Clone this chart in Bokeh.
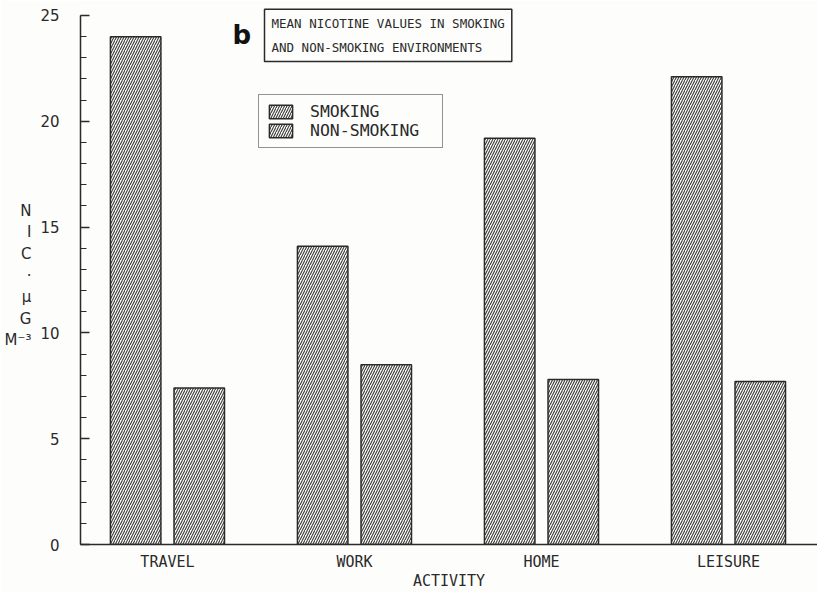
from bokeh.plotting import figure
from bokeh.models import ColumnDataSource, Label, Legend, LegendItem, FixedTicker, Range1d
from bokeh.embed import file_html
from bokeh.resources import INLINE

categories = ["TRAVEL", "WORK", "HOME", "LEISURE"]
smoking = [24.0, 14.1, 19.2, 22.1]
non_smoking = [7.4, 8.5, 7.8, 7.7]
y_ticks = [0, 5, 10, 15, 20, 25]

pos = [1, 2, 3, 4]
src = ColumnDataSource(dict(
    xs=[p - 0.17 for p in pos], xn=[p + 0.17 for p in pos],
    smoking=smoking, non_smoking=non_smoking))

MONO = "DejaVu Sans Mono"
INK = "#2a2a2a"
BG = "#fdfdfb"

p = figure(width=817, height=592, output_backend="svg", toolbar_location=None,
           x_range=Range1d(0.535, 4.476), y_range=Range1d(0, 25.4245),
           min_border_left=80, min_border_right=0, min_border_top=6, min_border_bottom=47)
p.outline_line_color = None
p.grid.grid_line_color = None
p.background_fill_color = BG
p.border_fill_color = BG

common = dict(width=0.27, fill_color=BG, line_color=INK, line_width=1.5,
              hatch_pattern="/", hatch_color="#3a3a3a", hatch_scale=5, hatch_weight=1.1)
r1 = p.vbar(x="xs", top="smoking", source=src, **common)
r2 = p.vbar(x="xn", top="non_smoking", source=src, **common)

# x axis
p.xaxis.ticker = FixedTicker(ticks=pos)
p.xaxis.major_label_overrides = {i: c for i, c in zip(pos, categories)}
p.xaxis.major_tick_line_color = None
p.xaxis.minor_tick_line_color = None
p.xaxis.axis_line_color = INK
p.xaxis.axis_line_width = 1.5
p.xaxis.major_label_text_font = MONO
p.xaxis.major_label_text_font_size = "15px"
p.xaxis.major_label_text_color = INK
p.xaxis.major_label_standoff = 2
p.xaxis.axis_label = "ACTIVITY"
p.xaxis.axis_label_text_font = MONO
p.xaxis.axis_label_text_font_size = "15px"
p.xaxis.axis_label_text_font_style = "normal"
p.xaxis.axis_label_text_color = INK
p.xaxis.axis_label_standoff = -2

# y axis
p.yaxis.bounds = (0, 25)
p.yaxis.ticker = FixedTicker(ticks=y_ticks, minor_ticks=list(range(0, 26)))
p.yaxis.major_tick_in = 9
p.yaxis.major_tick_out = 0
p.yaxis.minor_tick_in = 6
p.yaxis.minor_tick_out = 0
p.yaxis.axis_line_color = INK
p.yaxis.axis_line_width = 1.5
p.yaxis.major_tick_line_color = INK
p.yaxis.minor_tick_line_color = INK
p.yaxis.major_tick_line_width = 1.5
p.yaxis.major_label_text_font = "DejaVu Sans"
p.yaxis.major_label_text_font_size = "15px"
p.yaxis.major_label_text_color = INK
p.yaxis.major_label_standoff = 21
p.yaxis.axis_label = "N\nI\nC\n·\nµ\nG\nM⁻³"
p.yaxis.axis_label_text_font = "DejaVu Sans"
p.yaxis.axis_label_text_font_size = "15px"
p.yaxis.axis_label_text_font_style = "normal"
p.yaxis.axis_label_text_color = INK
p.yaxis.axis_label_text_line_height = 1.2
p.yaxis.axis_label_text_align = "left"
p.yaxis.axis_label_standoff = 6
try:
    p.yaxis.axis_label_orientation = "horizontal"
except Exception:
    pass

# legend
legend = Legend(items=[LegendItem(label="SMOKING", renderers=[r1]),
                       LegendItem(label="NON-SMOKING", renderers=[r2])],
                location=(178, 396), orientation="vertical",
                glyph_width=29, glyph_height=17, label_height=17, label_width=125,
                spacing=0, padding=7, margin=0,
                label_text_font=MONO, label_text_font_size="16.5px", label_text_color=INK,
                label_standoff=15, border_line_color=INK, border_line_width=1.5,
                background_fill_color=BG, background_fill_alpha=1)
p.add_layout(legend, "center")

# title box
p.add_layout(Label(x=184, y=483, x_units="screen", y_units="screen",
                   text="MEAN NICOTINE VALUES IN SMOKING\nAND NON-SMOKING ENVIRONMENTS",
                   text_font=MONO, text_font_size="12.5px", text_color=INK,
                   text_line_height=1.55,
                   border_line_color=INK, border_line_width=1.5,
                   background_fill_color=BG, padding=7))
p.add_layout(Label(x=152, y=495, x_units="screen", y_units="screen", text="b",
                   text_font="DejaVu Sans", text_font_style="bold",
                   text_font_size="26px", text_color="#111111"))

open("out.html", "w").write(file_html(p, INLINE))
